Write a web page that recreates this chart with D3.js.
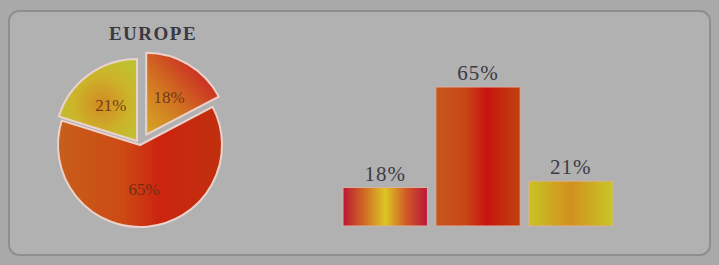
<!DOCTYPE html>
<meta charset="utf-8">
<style>
  body { margin: 0; background: #a9a9a9; }
  svg { display: block; }
  .lbl { font-family: "Liberation Serif", serif; fill: #3c3c44; }
</style>
<body>
<script src="https://d3js.org/d3.v7.min.js"></script>
<script>
// data
var title = "EUROPE";
var categories = ["red-yellow", "orange-red", "yellow"];
var values = [18, 65, 21];

var W = 719, H = 265;

var svg = d3.select("body").append("svg")
    .attr("width", W)
    .attr("height", H);

var defs = svg.append("defs");

// one gradient per mark, stops as [offset, colour]
function linGrad(id, x1, y1, x2, y2, stops) {
  var g = defs.append("linearGradient").attr("id", id)
      .attr("x1", x1).attr("y1", y1).attr("x2", x2).attr("y2", y2);
  stops.forEach(function(s) {
    g.append("stop").attr("offset", s[0]).attr("stop-color", s[1]);
  });
}
function radGrad(id, cx, cy, r, stops) {
  var g = defs.append("radialGradient").attr("id", id)
      .attr("cx", cx).attr("cy", cy).attr("r", r);
  stops.forEach(function(s) {
    g.append("stop").attr("offset", s[0]).attr("stop-color", s[1]);
  });
}

linGrad("pie0", "0%", "100%", "100%", "0%",
  [["0%", "#d4a826"], ["35%", "#d27a22"], ["70%", "#cc3a22"], ["100%", "#c8142c"]]);
linGrad("pie1", "0%", "0%", "100%", "0%",
  [["0%", "#c85e1a"], ["40%", "#cc4a14"], ["62%", "#cc2410"], ["100%", "#c0300e"]]);
radGrad("pie2", "55%", "55%", "65%",
  [["0%", "#d28a22"], ["55%", "#ccb42a"], ["100%", "#bcc430"]]);

linGrad("bar0", "0%", "0%", "100%", "0%",
  [["0%", "#bc1634"], ["25%", "#d06a24"], ["50%", "#dcc624"], ["75%", "#d05a26"], ["100%", "#bc1638"]]);
linGrad("bar1", "0%", "0%", "100%", "0%",
  [["0%", "#c8561e"], ["35%", "#c84616"], ["60%", "#c81410"], ["100%", "#c0420e"]]);
linGrad("bar2", "0%", "0%", "100%", "0%",
  [["0%", "#c8c424"], ["50%", "#d2901e"], ["100%", "#c8c628"]]);

// panel
svg.append("rect")
    .attr("x", 9).attr("y", 11)
    .attr("width", 701).attr("height", 244)
    .attr("rx", 10)
    .attr("fill", "#b1b1b1")
    .attr("stroke", "#8e8e8e")
    .attr("stroke-width", 2);

// ---- pie ----
var cx = 140, cy = 145, R = 82;
var explode = [12, 0, 5];

var pie = d3.pie().sort(null).value(function(d) { return d; });
var arc = d3.arc().innerRadius(0).outerRadius(R);
var labelArc = d3.arc().innerRadius(R * 0.54).outerRadius(R * 0.54);

var pg = svg.append("g").attr("transform", "translate(" + cx + "," + cy + ")");

var slices = pg.selectAll("g.slice")
    .data(pie(values))
  .enter().append("g")
    .attr("class", "slice")
    .attr("transform", function(d, i) {
      var a = (d.startAngle + d.endAngle) / 2;
      return "translate(" + (Math.sin(a) * explode[i]) + "," + (-Math.cos(a) * explode[i]) + ")";
    });

slices.append("path")
    .attr("d", arc)
    .attr("fill", function(d, i) { return "url(#pie" + i + ")"; })
    .attr("stroke", "#ecd2cc")
    .attr("stroke-width", 2)
    .attr("stroke-linejoin", "round");

slices.append("text")
    .attr("class", "lbl")
    .attr("transform", function(d) { return "translate(" + labelArc.centroid(d) + ")"; })
    .attr("text-anchor", "middle")
    .attr("dy", "0.35em")
    .style("font-size", "17px")
    .style("fill", "#5e2c12")
    .style("fill-opacity", 0.85)
    .text(function(d) { return d.data + "%"; });

svg.append("text")
    .attr("class", "lbl")
    .attr("x", 153).attr("y", 40)
    .attr("text-anchor", "middle")
    .style("font-size", "19px")
    .style("font-weight", "bold")
    .style("letter-spacing", "1.5px")
    .style("fill", "#3a3842")
    .text(title);

// ---- bars ----
var x = d3.scaleBand()
    .domain(categories)
    .range([343, 613])
    .paddingInner(0.09);

var y = d3.scaleLinear()
    .domain([0, 65])
    .range([226, 87]);

var bars = svg.append("g");

bars.selectAll("rect")
    .data(values)
  .enter().append("rect")
    .attr("x", function(d, i) { return x(categories[i]); })
    .attr("y", function(d) { return y(d); })
    .attr("width", x.bandwidth())
    .attr("height", function(d) { return y(0) - y(d); })
    .attr("fill", function(d, i) { return "url(#bar" + i + ")"; })
    .attr("stroke", "#d6b0a4")
    .attr("stroke-width", 1);

bars.selectAll("text")
    .data(values)
  .enter().append("text")
    .attr("class", "lbl")
    .attr("x", function(d, i) { return x(categories[i]) + x.bandwidth() / 2; })
    .attr("y", function(d) { return y(d) - 7; })
    .attr("text-anchor", "middle")
    .style("font-size", "21px")
    .style("letter-spacing", "1px")
    .text(function(d) { return d + "%"; });
</script>
</body>
